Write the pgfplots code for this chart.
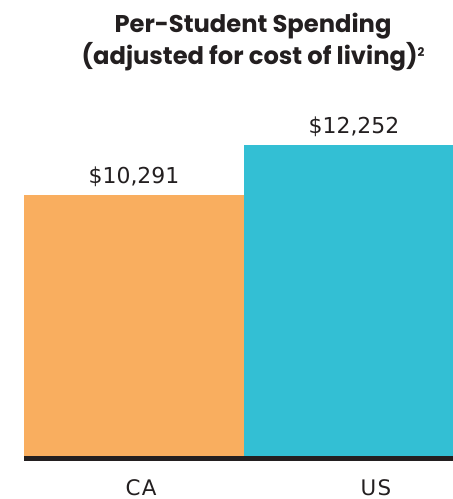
\documentclass[border=0pt]{standalone}
\usepackage{pgfplots}
\pgfplotsset{compat=1.18}
\usepackage{fontspec}
\setmainfont{Poppins}
\newfontfamily\numfont{DejaVu Sans}
\newfontfamily\catfont[LetterSpace=6]{DejaVu Sans}

\definecolor{caorange}{HTML}{F9AE5F}
\definecolor{usteal}{HTML}{33BFD4}
\definecolor{inkdark}{HTML}{231F20}

\begin{document}
\begin{tikzpicture}[x=1bp,y=1bp]
\useasboundingbox (-24,-43) rectangle (429,456);
\begin{axis}[
    at={(0,0)}, anchor=south west,
    scale only axis,
    width=429bp, height=310.7bp,
    xmin=-0.5, xmax=1.45,
    ymin=0, ymax=12252,
    clip=false,
    axis x line=none, axis y line=none,
    ybar, bar width=220bp, bar shift=0pt,
    ytick=\empty,
    nodes near coords={\$\pgfmathprintnumber{\pgfplotspointmeta}},
    every node near coord/.append style={anchor=base, yshift=12bp, font=\numfont\fontsize{22}{26}\selectfont, text=inkdark},
    /pgf/number format/.cd, 1000 sep={,}, assume math mode=true,
]
\addplot[fill=caorange, draw=none] coordinates {(0,10291)};
\addplot[fill=usteal, draw=none] coordinates {(1,12252)};
\draw[inkdark, line width=5bp] ([yshift=-2.5bp]rel axis cs:0,0) -- ([yshift=-2.5bp]rel axis cs:1,0);
\end{axis}
\node[anchor=base, font=\catfont\fontsize{21.5}{25}\selectfont, text=inkdark] at (117,-39) {CA};
\node[anchor=base, font=\catfont\fontsize{21.5}{25}\selectfont, text=inkdark] at (352,-39) {US};
\node[anchor=base, font=\bfseries\fontsize{24.3}{29}\selectfont, text=inkdark] at (229,423) {Per-Student Spending};
\node[anchor=base, font=\bfseries\fontsize{24.3}{29}\selectfont, text=inkdark] at (229,391) {(adjusted for cost of living)\raisebox{8bp}{\fontsize{12}{12}\selectfont 2}};
\end{tikzpicture}
\end{document}
